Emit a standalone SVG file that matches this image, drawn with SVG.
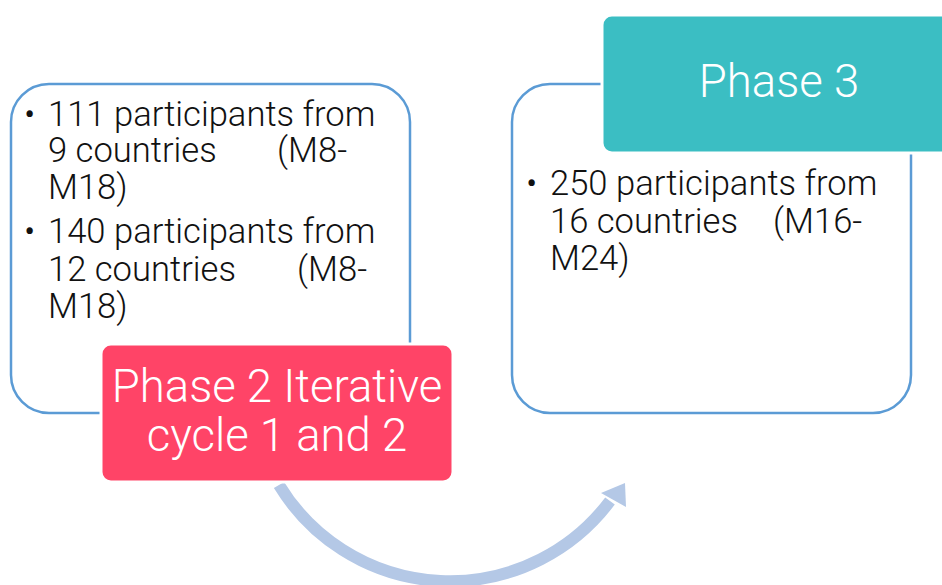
<svg xmlns="http://www.w3.org/2000/svg" width="942" height="585" viewBox="0 0 942 585">
<style>
.box{fill:#fff;stroke:#5b9bd5;stroke-width:2.5}
.lbl{fill:#ff4467;stroke:#fff;stroke-width:3}
.lbl3{fill:#3bbec3;stroke:#fff;stroke-width:3}
.t{font-family:Roboto,"Liberation Sans",sans-serif;font-weight:300;font-size:34.6px;fill:#111}
.h{font-family:Roboto,"Liberation Sans",sans-serif;font-weight:300;font-size:45.5px;fill:#fff;text-anchor:middle}
</style>
<g id="connectors">
<path d="M279,485 A200,200 0 0 0 610,501" fill="none" stroke="#b4c8e6" stroke-width="12"/>
<polygon points="601,493 625,483 626,507" fill="#b4c8e6"/>
</g>
<g id="phase2-box">
<rect class="box" x="11" y="84" width="399" height="329" rx="38"/>
<text class="t" x="24" y="126">•</text>
<text class="t" x="48" y="126">111 participants from</text>
<text class="t" x="48" y="162">9 countries</text>
<text class="t" x="277" y="162">(M8-</text>
<text class="t" x="48" y="199">M18)</text>
<text class="t" x="24" y="243">•</text>
<text class="t" x="48" y="243">140 participants from</text>
<text class="t" x="48" y="281">12 countries</text>
<text class="t" x="297" y="281">(M8-</text>
<text class="t" x="48" y="318">M18)</text>
</g>
<g id="phase3-box">
<rect class="box" x="512" y="84" width="399" height="329" rx="38"/>
<text class="t" x="526" y="195">•</text>
<text class="t" x="550" y="195">250 participants from</text>
<text class="t" x="550" y="233">16 countries</text>
<text class="t" x="773" y="233">(M16-</text>
<text class="t" x="550" y="270">M24)</text>
</g>
<g id="phase2-label">
<rect class="lbl" x="101" y="344" width="352" height="138" rx="10"/>
<text class="h" x="277" y="402">Phase 2 Iterative</text>
<text class="h" x="277" y="451">cycle 1 and 2</text>
</g>
<g id="phase3-label">
<rect class="lbl3" x="602" y="15" width="360" height="138" rx="10"/>
<text class="h" x="779" y="97">Phase 3</text>
</g>
</svg>
